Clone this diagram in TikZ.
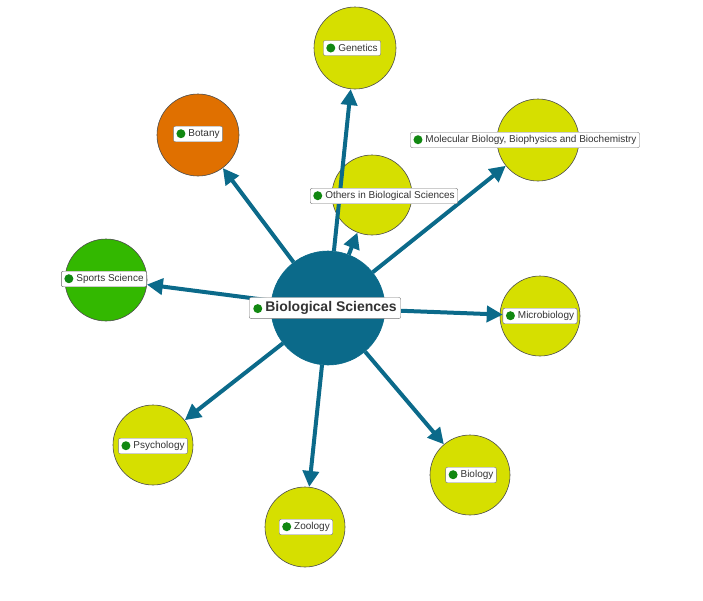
\documentclass[tikz,border=0pt]{standalone}
\usepackage{fontspec}
\setmainfont{Liberation Sans}
\usetikzlibrary{arrows.meta}
\definecolor{teal}{HTML}{0B6A8A}
\definecolor{lime}{HTML}{D6DF00}
\definecolor{orng}{HTML}{E07000}
\definecolor{grn}{HTML}{33B800}
\definecolor{dot}{HTML}{118811}
\begin{document}
\begin{tikzpicture}[x=1pt,y=-1pt,
  bub/.style={circle,draw=black!70,line width=0.6pt,inner sep=0,minimum size=#1},
  lab/.style={draw=black!55,fill=white,rounded corners=2pt,inner sep=3pt,font=\fontsize{10}{12}\selectfont,text=black!80},
  arr/.style={draw=teal,line width=4pt,-{Triangle[length=16pt,width=16pt]}}]
\useasboundingbox (0,0) rectangle (703,600);
\newcommand{\gdot}{\tikz[baseline=-3pt]\fill[dot] (0,0) circle (4.5pt);\hspace{3pt}}
% circles
\node[bub=114pt,fill=teal,draw=teal] (c) at (328,308) {};
\node[bub=82pt,fill=lime] (gen) at (355,48) {};
\node[bub=82pt,fill=orng] (bot) at (198,135) {};
\node[bub=82pt,fill=lime] (mol) at (538,140) {};
\node[bub=80pt,fill=lime] (oth) at (372,195) {};
\node[bub=82pt,fill=grn] (spo) at (106,280) {};
\node[bub=80pt,fill=lime] (mic) at (540,316) {};
\node[bub=80pt,fill=lime] (psy) at (153,445) {};
\node[bub=80pt,fill=lime] (zoo) at (305,527) {};
\node[bub=80pt,fill=lime] (bio) at (470,475) {};
% labels
\node[lab] (lspo) at (104,279) {\gdot Sports Science};
\node[lab] (lmic) at (540,316) {\gdot Microbiology};
% arrows
\draw[arr] (c) -- (gen);
\draw[arr] (c) -- (bot);
\draw[arr] (c) -- (mol);
\draw[arr] (c) -- (oth);
\draw[arr] (c) -- (lspo);
\draw[arr] (c) -- (lmic);
\draw[arr] (c) -- (psy);
\draw[arr] (c) -- (zoo);
\draw[arr] (c) -- (bio);
\node[lab] at (104,279) {\gdot Sports Science};
\node[lab] at (540,316) {\gdot Microbiology};
\node[lab] at (352,48) {\gdot Genetics};
\node[lab] at (198,134) {\gdot Botany};
\node[lab] at (525,140) {\gdot Molecular Biology, Biophysics and Biochemistry};
\node[lab] at (384,196) {\gdot Others in Biological Sciences};
\node[lab] at (153,446) {\gdot Psychology};
\node[lab] at (306,527) {\gdot Zoology};
\node[lab] at (471,475) {\gdot Biology};
\node[lab,font=\bfseries\fontsize{14}{16}\selectfont,inner sep=4pt] at (325,308) {\gdot Biological Sciences};
\end{tikzpicture}
\end{document}
